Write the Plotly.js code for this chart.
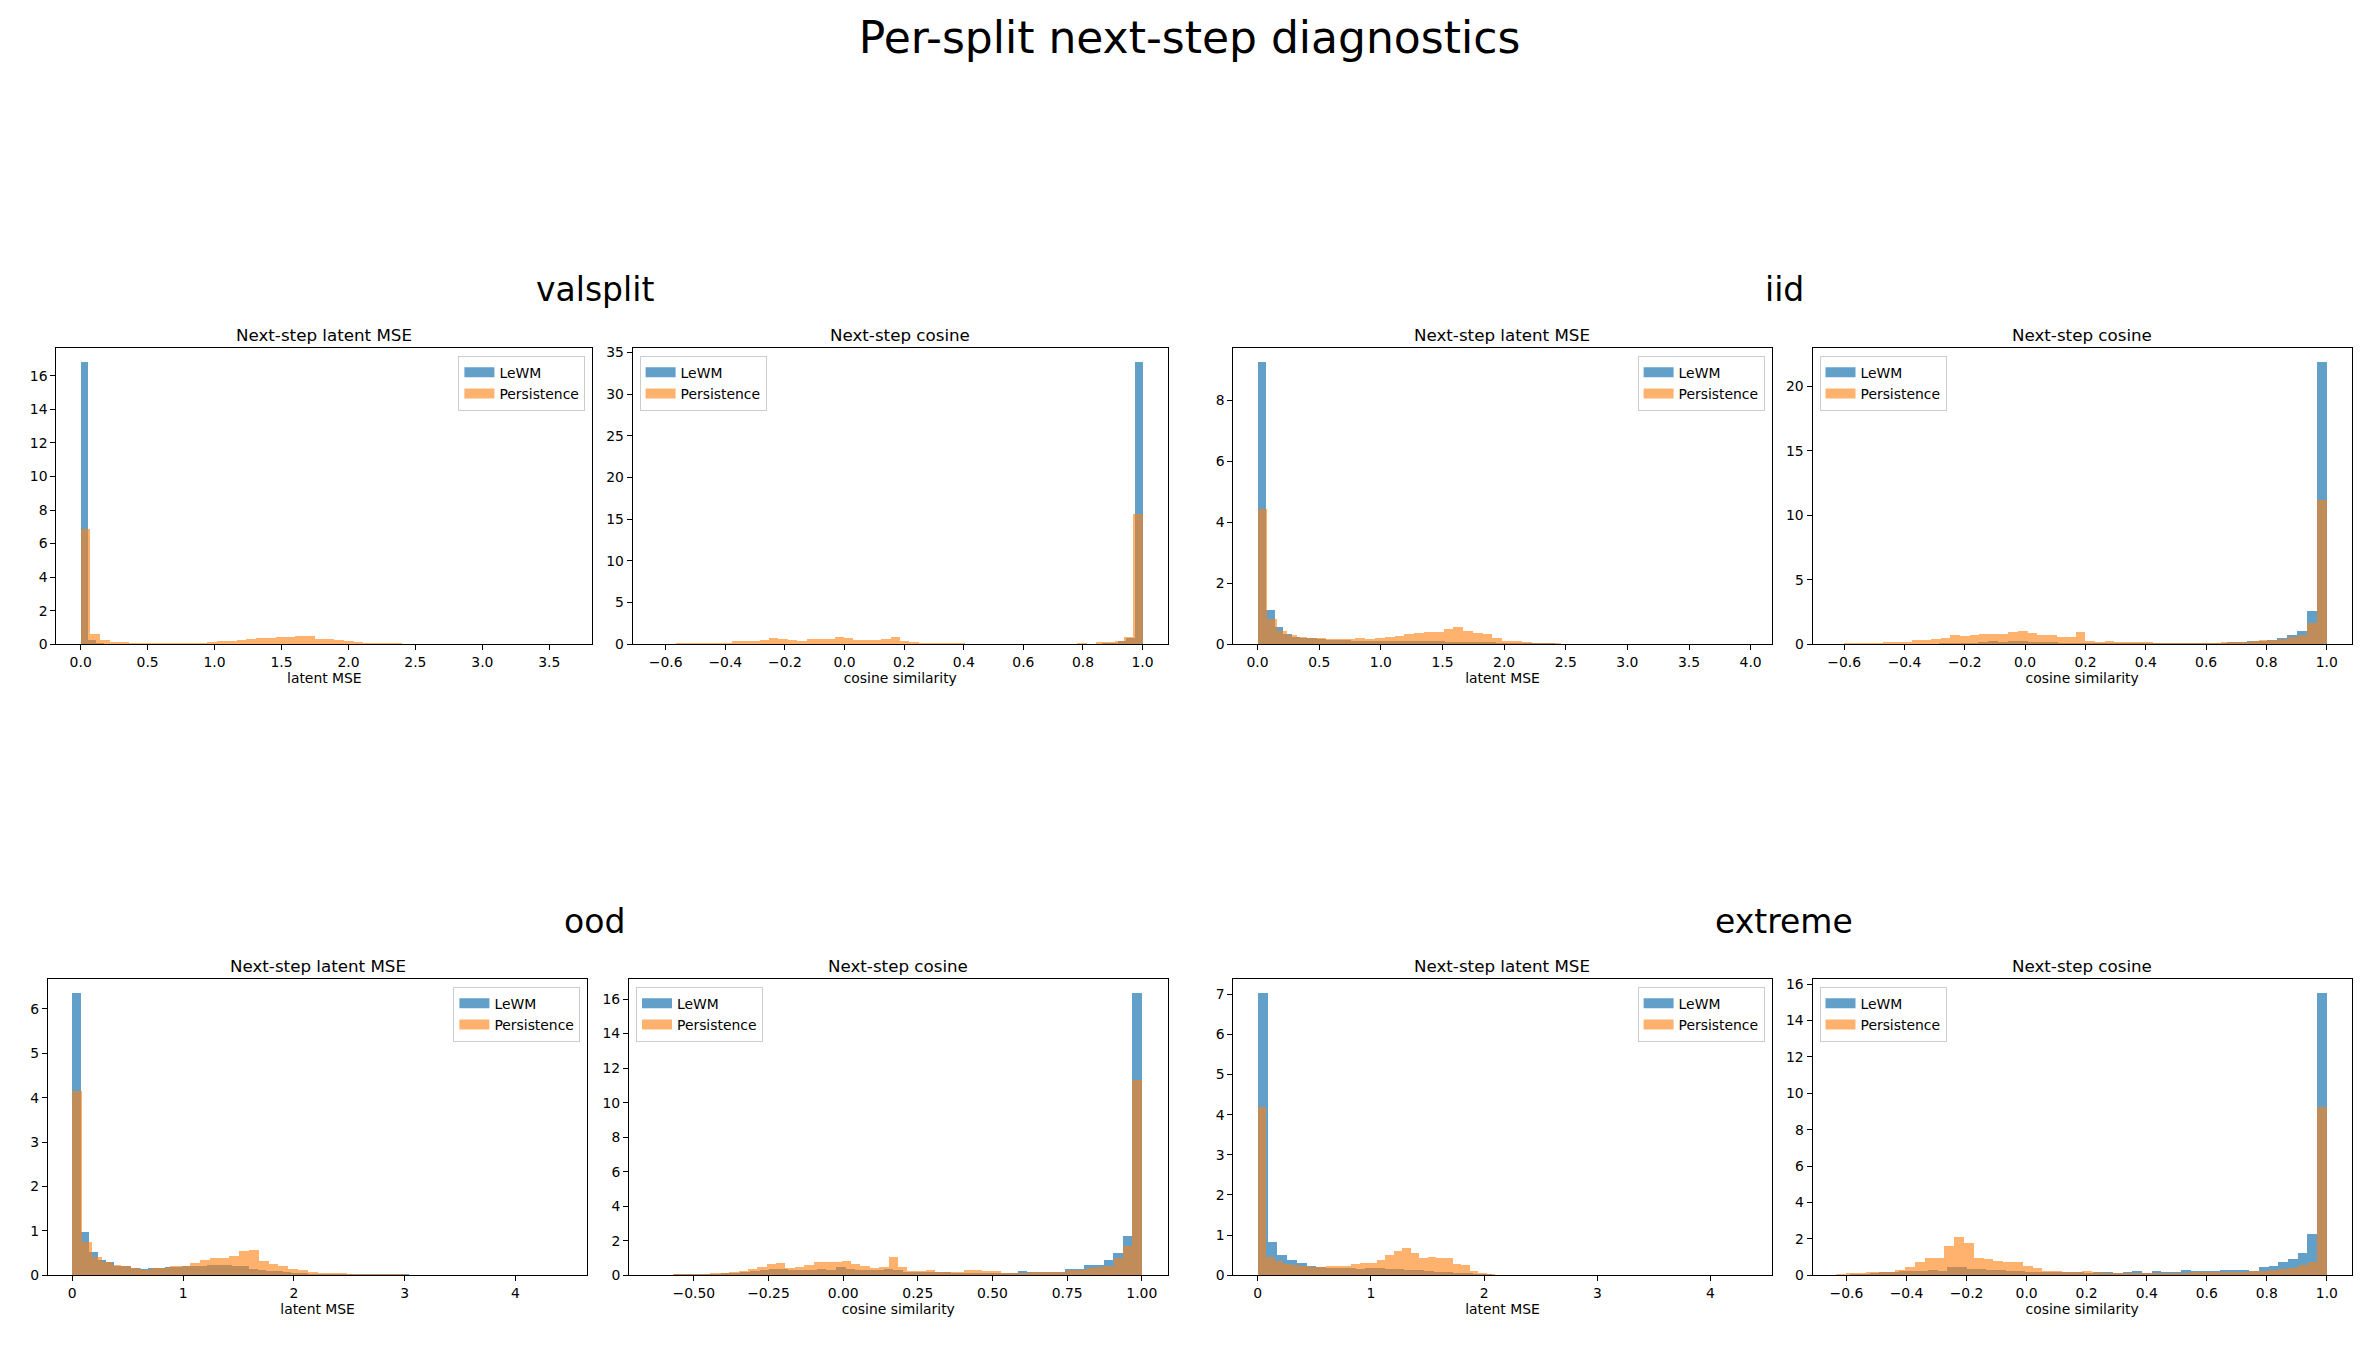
<!DOCTYPE html>
<html>
<head>
<meta charset="utf-8">
<script src="https://cdn.plot.ly/plotly-3.0.1.min.js"></script>
<style>
  html, body { margin: 0; padding: 0; background: #ffffff; }
  #chart { width: 2379px; height: 1347px; }
</style>
</head>
<body>
<div id="chart"></div>
<script>
const FIG_W = 2379, FIG_H = 1347;
const FONT = 'DejaVu Sans, Liberation Sans, sans-serif';
const LEWM_COLOR = 'rgba(31,119,180,0.7)';
const PERS_COLOR = 'rgba(255,127,14,0.6)';

const seriesNames = ['LeWM', 'Persistence'];
const splitNames = ['valsplit', 'iid', 'ood', 'extreme'];
const metricTitles = ['Next-step latent MSE', 'Next-step cosine'];
const metricLabels = ['latent MSE', 'cosine similarity'];

// Histogram bins are [left edge of first bin, bin width]; heights are densities.

// valsplit – latent MSE
const valsplitMseLewmBins = [0, 0.057];
const valsplitMseLewm = [16.8, 0.25, 0.08, 0.04, 0.03, 0.03, 0.02, 0.02, 0.02, 0.01, 0.01, 0.01, 0.01, 0.01, 0.01];
const valsplitMsePersBins = [0, 0.0728];
const valsplitMsePers = [6.9, 0.62, 0.26, 0.12, 0.11, 0.07, 0.06, 0.06, 0.06, 0.06, 0.08, 0.09, 0.09, 0.12, 0.19, 0.21, 0.25, 0.31, 0.36, 0.38, 0.42, 0.45, 0.52, 0.52, 0.34, 0.34, 0.28, 0.2, 0.12, 0.06, 0.06, 0.05, 0.05, 0.01];

// valsplit – cosine similarity
const valsplitCosLewmBins = [-0.35, 0.027];
const valsplitCosLewm = [0.01, 0.01, 0.01, 0.01, 0.01, 0.01, 0.01, 0.01, 0.01, 0.01, 0.01, 0.01, 0.01, 0.01, 0.01, 0.01, 0.01, 0.01, 0.01, 0.01, 0.01, 0.01, 0.01, 0.01, 0.01, 0.01, 0.01, 0.01, 0.01, 0.01, 0.01, 0.01, 0.01, 0.01, 0.01, 0.01, 0.02, 0.02, 0.02, 0.02, 0.03, 0.03, 0.04, 0.05, 0.08, 0.1, 0.2, 0.35, 0.8, 33.8];
const valsplitCosPersBins = [-0.566, 0.03132];
const valsplitCosPers = [0.1, 0.1, 0.1, 0.1, 0.12, 0.14, 0.36, 0.36, 0.44, 0.5, 0.76, 0.68, 0.5, 0.44, 0.58, 0.64, 0.64, 0.88, 0.7, 0.56, 0.56, 0.56, 0.64, 0.88, 0.36, 0.22, 0.2, 0.2, 0.2, 0.12, 0.1, 0.08, 0.08, 0.08, 0.08, 0.08, 0.08, 0.08, 0.08, 0.08, 0.08, 0.08, 0.08, 0.2, 0.08, 0.22, 0.24, 0.36, 0.92, 15.6];

// iid – latent MSE
const iidMseLewmBins = [0, 0.069];
const iidMseLewm = [9.25, 1.13, 0.57, 0.35, 0.25, 0.22, 0.2, 0.17, 0.15, 0.14, 0.13, 0.12, 0.12, 0.12, 0.11, 0.11, 0.11, 0.11, 0.11, 0.1, 0.1, 0.1, 0.09, 0.09, 0.08, 0.07, 0.06, 0.06, 0.05, 0.05, 0.04, 0.04, 0.03, 0.03, 0.03, 0.02, 0.02, 0.02, 0.02, 0.01, 0.01, 0.01, 0.01];
const iidMsePersBins = [0, 0.0794];
const iidMsePers = [4.43, 0.83, 0.45, 0.3, 0.24, 0.22, 0.2, 0.17, 0.17, 0.17, 0.2, 0.16, 0.22, 0.24, 0.27, 0.34, 0.37, 0.39, 0.42, 0.5, 0.57, 0.45, 0.37, 0.35, 0.22, 0.12, 0.1, 0.06, 0.05, 0.03, 0.03, 0.025, 0.02, 0.02, 0.02, 0.02, 0.02, 0.02, 0.02];

// iid – cosine similarity
const iidCosLewmBins = [-0.65, 0.033];
const iidCosLewm = [0, 0.01, 0.02, 0.03, 0.03, 0.03, 0.03, 0.03, 0.03, 0.05, 0.06, 0.08, 0.1, 0.12, 0.13, 0.15, 0.22, 0.2, 0.24, 0.25, 0.2, 0.15, 0.14, 0.12, 0.12, 0.1, 0.09, 0.09, 0.08, 0.08, 0.08, 0.08, 0.08, 0.08, 0.08, 0.08, 0.1, 0.1, 0.1, 0.12, 0.2, 0.2, 0.22, 0.28, 0.35, 0.5, 0.72, 1.03, 2.56, 21.86];
const iidCosPersBins = [-0.6, 0.032];
const iidCosPers = [0.08, 0.08, 0.08, 0.08, 0.15, 0.15, 0.15, 0.34, 0.36, 0.42, 0.47, 0.7, 0.66, 0.76, 0.78, 0.78, 0.8, 0.92, 1.06, 0.85, 0.72, 0.7, 0.6, 0.6, 0.98, 0.26, 0.18, 0.28, 0.2, 0.2, 0.2, 0.2, 0.1, 0.09, 0.09, 0.09, 0.09, 0.09, 0.1, 0.15, 0.2, 0.2, 0.24, 0.3, 0.34, 0.42, 0.56, 0.74, 1.63, 11.2];

// ood – latent MSE
const oodMseLewmBins = [0, 0.076];
const oodMseLewm = [6.35, 0.97, 0.53, 0.35, 0.3, 0.22, 0.2, 0.17, 0.15, 0.16, 0.17, 0.18, 0.19, 0.2, 0.21, 0.22, 0.23, 0.24, 0.24, 0.2, 0.22, 0.14, 0.12, 0.1, 0.09, 0.07, 0.06, 0.05, 0.04, 0.03, 0.03, 0.03, 0.03, 0.02, 0.02, 0.02, 0.02, 0.02, 0.02, 0.02, 0.01, 0.01, 0.01, 0.01, 0.01, 0.01];
const oodMsePersBins = [0, 0.0886];
const oodMsePers = [4.16, 0.74, 0.41, 0.31, 0.23, 0.2, 0.16, 0.13, 0.17, 0.17, 0.21, 0.2, 0.27, 0.35, 0.39, 0.39, 0.44, 0.55, 0.57, 0.32, 0.25, 0.21, 0.14, 0.12, 0.07, 0.06, 0.05, 0.05, 0.04, 0.03, 0.02, 0.02, 0.02, 0.02];

// ood – cosine similarity
const oodCosLewmBins = [-0.6, 0.032];
const oodCosLewm = [0.02, 0.05, 0.06, 0.06, 0.06, 0.1, 0.12, 0.15, 0.2, 0.25, 0.33, 0.35, 0.35, 0.3, 0.3, 0.32, 0.35, 0.3, 0.48, 0.35, 0.3, 0.28, 0.3, 0.37, 0.3, 0.22, 0.2, 0.2, 0.18, 0.18, 0.16, 0.15, 0.15, 0.15, 0.14, 0.14, 0.14, 0.25, 0.2, 0.2, 0.22, 0.22, 0.35, 0.37, 0.58, 0.6, 0.89, 1.28, 2.3, 16.33];
const oodCosPersBins = [-0.57, 0.0314];
const oodCosPers = [0.07, 0.08, 0.08, 0.08, 0.15, 0.12, 0.17, 0.27, 0.37, 0.48, 0.66, 0.7, 0.44, 0.5, 0.58, 0.75, 0.75, 0.75, 0.81, 0.66, 0.54, 0.41, 0.5, 1.06, 0.46, 0.25, 0.25, 0.31, 0.21, 0.17, 0.17, 0.31, 0.31, 0.25, 0.25, 0.13, 0.13, 0.15, 0.17, 0.17, 0.18, 0.2, 0.31, 0.31, 0.4, 0.5, 0.56, 0.98, 1.7, 11.32];

// extreme – latent MSE
const extremeMseLewmBins = [0, 0.0864];
const extremeMseLewm = [7.02, 0.82, 0.5, 0.38, 0.3, 0.23, 0.2, 0.19, 0.18, 0.17, 0.15, 0.17, 0.17, 0.16, 0.15, 0.12, 0.12, 0.1, 0.08, 0.07, 0.06, 0.05, 0.04, 0.03, 0.02, 0.02, 0.02, 0.02, 0.02, 0.02, 0.01, 0.01, 0.01, 0.02];
const extremeMsePersBins = [0, 0.075];
const extremeMsePers = [4.2, 0.46, 0.35, 0.27, 0.25, 0.22, 0.2, 0.2, 0.22, 0.22, 0.22, 0.28, 0.3, 0.31, 0.38, 0.5, 0.6, 0.68, 0.56, 0.44, 0.46, 0.43, 0.42, 0.27, 0.25, 0.1, 0.06, 0.03, 0.02, 0.02, 0.02, 0.02, 0.02, 0.02, 0.02, 0.02, 0.02, 0.015, 0.015, 0.01];

// extreme – cosine similarity
const extremeCosLewmBins = [-0.62, 0.0324];
const extremeCosLewm = [0.03, 0.05, 0.08, 0.15, 0.17, 0.2, 0.25, 0.26, 0.24, 0.28, 0.25, 0.45, 0.48, 0.32, 0.35, 0.3, 0.28, 0.25, 0.24, 0.2, 0.18, 0.16, 0.18, 0.16, 0.16, 0.15, 0.16, 0.16, 0.15, 0.18, 0.22, 0.15, 0.22, 0.16, 0.16, 0.29, 0.22, 0.24, 0.24, 0.28, 0.3, 0.28, 0.26, 0.48, 0.51, 0.75, 0.92, 1.25, 2.25, 15.49];
const extremeCosPersBins = [-0.634, 0.0327];
const extremeCosPers = [0.05, 0.1, 0.12, 0.2, 0.2, 0.18, 0.3, 0.48, 0.72, 0.94, 0.94, 1.6, 2.13, 1.76, 0.94, 0.88, 0.77, 0.73, 0.73, 0.53, 0.38, 0.24, 0.24, 0.18, 0.18, 0.22, 0.18, 0.15, 0.15, 0.15, 0.15, 0.15, 0.15, 0.15, 0.15, 0.15, 0.16, 0.17, 0.18, 0.2, 0.2, 0.2, 0.24, 0.26, 0.29, 0.35, 0.42, 0.59, 0.75, 9.27];

// Panel layout: pixel box [left, right, top, bottom], axis range and tick spacing.
const panels = [
  { split: 0, metric: 0, box: [56.3, 592.4, 348.3, 644.3], xRange: [-0.182, 3.822], xStep: 0.5, xFmt: '.1f', yStep: 2,
    lewm: [valsplitMseLewmBins, valsplitMseLewm], pers: [valsplitMsePersBins, valsplitMsePers] },
  { split: 0, metric: 1, box: [632.6, 1167.9, 348.3, 644.3], xRange: [-0.711, 1.085], xStep: 0.2, xFmt: '.1f', yStep: 5,
    lewm: [valsplitCosLewmBins, valsplitCosLewm], pers: [valsplitCosPersBins, valsplitCosPers] },
  { split: 1, metric: 0, box: [1233.3, 1771.6, 348.3, 644.3], xRange: [-0.197, 4.17], xStep: 0.5, xFmt: '.1f', yStep: 2,
    lewm: [iidMseLewmBins, iidMseLewm], pers: [iidMsePersBins, iidMsePers] },
  { split: 1, metric: 1, box: [1812.5, 2351.8, 348.3, 644.3], xRange: [-0.705, 1.083], xStep: 0.2, xFmt: '.1f', yStep: 5,
    lewm: [iidCosLewmBins, iidCosLewm], pers: [iidCosPersBins, iidCosPers] },
  { split: 2, metric: 0, box: [47.8, 587.4, 979.3, 1275.3], xRange: [-0.221, 4.65], xStep: 1, xFmt: 'd', yStep: 1,
    lewm: [oodMseLewmBins, oodMseLewm], pers: [oodMsePersBins, oodMsePers] },
  { split: 2, metric: 1, box: [629.0, 1167.5, 979.3, 1275.3], xRange: [-0.717, 1.086], xStep: 0.25, xFmt: '.2f', yStep: 2,
    lewm: [oodCosLewmBins, oodCosLewm], pers: [oodCosPersBins, oodCosPers] },
  { split: 3, metric: 0, box: [1233.3, 1771.6, 979.3, 1275.3], xRange: [-0.216, 4.54], xStep: 1, xFmt: 'd', yStep: 1,
    lewm: [extremeMseLewmBins, extremeMseLewm], pers: [extremeMsePersBins, extremeMsePers] },
  { split: 3, metric: 1, box: [1812.5, 2351.8, 979.3, 1275.3], xRange: [-0.713, 1.083], xStep: 0.2, xFmt: '.1f', yStep: 2,
    lewm: [extremeCosLewmBins, extremeCosLewm], pers: [extremeCosPersBins, extremeCosPers] }
];

// Split headings: centre of each half of the figure, baseline above its row.
const splitHeadings = [
  { x: 594.75, y: 302 }, { x: 1784.25, y: 302 },
  { x: 594.75, y: 934 }, { x: 1784.25, y: 934 }
];

const fx = px => px / FIG_W;
const fy = py => 1 - py / FIG_H;

const traces = [];
const layout = {
  width: FIG_W, height: FIG_H,
  margin: { l: 0, r: 0, t: 0, b: 0, pad: 0 },
  paper_bgcolor: '#ffffff', plot_bgcolor: '#ffffff',
  font: { family: FONT, size: 13.9, color: '#000000' },
  barmode: 'overlay', bargap: 0,
  showlegend: true,
  hovermode: false,
  title: {
    text: 'Per-split next-step diagnostics',
    x: 0.5, xanchor: 'center', xref: 'paper',
    y: fy(38), yanchor: 'middle', yref: 'container',
    font: { family: FONT, size: 44, color: '#000000' }
  },
  annotations: []
};

panels.forEach((p, i) => {
  const sfx = i === 0 ? '' : String(i + 1);
  const xa = 'x' + sfx, ya = 'y' + sfx, lg = 'legend' + sfx;
  const series = [
    { data: p.lewm, color: LEWM_COLOR, name: seriesNames[0] },
    { data: p.pers, color: PERS_COLOR, name: seriesNames[1] }
  ];
  let yMax = 0;
  series.forEach(s => {
    const [bins, heights] = s.data;
    const edges = heights.map((_, k) => bins[0] + k * bins[1]);
    yMax = Math.max(yMax, ...heights);
    traces.push({
      type: 'bar', x: edges, y: heights, width: bins[1], offset: 0,
      xaxis: xa, yaxis: ya,
      marker: { color: s.color, line: { width: 0 } },
      showlegend: false, hoverinfo: 'skip'
    });
  });
  // legend keys drawn as wide colour patches
  series.forEach(s => {
    traces.push({
      type: 'scatter', mode: 'lines', x: [null], y: [null], name: s.name,
      xaxis: xa, yaxis: ya, legend: lg,
      line: { color: s.color, width: 10 }, hoverinfo: 'skip'
    });
  });

  const [l, r, t, b] = p.box;
  const common = {
    ticks: 'outside', ticklen: 5, tickwidth: 1, tickcolor: '#000000',
    showline: true, linecolor: '#000000', linewidth: 1, mirror: true,
    showgrid: false, zeroline: false, fixedrange: true,
    tickfont: { family: FONT, size: 13.9, color: '#000000' },
    tickmode: 'linear', tick0: 0
  };
  layout['xaxis' + sfx] = Object.assign({}, common, {
    domain: [fx(l), fx(r)], anchor: ya, range: p.xRange,
    dtick: p.xStep, tickformat: p.xFmt,
    title: { text: metricLabels[p.metric], standoff: 4, font: { family: FONT, size: 13.9, color: '#000000' } }
  });
  layout['yaxis' + sfx] = Object.assign({}, common, {
    domain: [fy(b), fy(t)], anchor: xa, range: [0, yMax * 1.05],
    dtick: p.yStep
  });

  const legendRight = p.metric === 0;
  layout[lg] = {
    x: fx(legendRight ? r - 7 : l + 7), xanchor: legendRight ? 'right' : 'left',
    y: fy(t + 7.5), yanchor: 'top', xref: 'paper', yref: 'paper',
    bgcolor: 'rgba(255,255,255,0.8)', bordercolor: '#cccccc', borderwidth: 1,
    font: { family: FONT, size: 13.9, color: '#000000' },
    tracegroupgap: 0, itemclick: false, itemdoubleclick: false
  };

  layout.annotations.push({
    text: metricTitles[p.metric], showarrow: false,
    xref: 'paper', yref: 'paper', x: fx((l + r) / 2), y: fy(t),
    xanchor: 'center', yanchor: 'bottom', yshift: 1.5,
    font: { family: FONT, size: 16.7, color: '#000000' }
  });
});

splitHeadings.forEach((h, k) => {
  layout.annotations.push({
    text: splitNames[k], showarrow: false,
    xref: 'paper', yref: 'paper', x: fx(h.x), y: fy(h.y),
    xanchor: 'center', yanchor: 'bottom', yshift: -9,
    font: { family: FONT, size: 33, color: '#000000' }
  });
});

Plotly.newPlot('chart', traces, layout, { displayModeBar: false, staticPlot: true });
</script>
</body>
</html>
